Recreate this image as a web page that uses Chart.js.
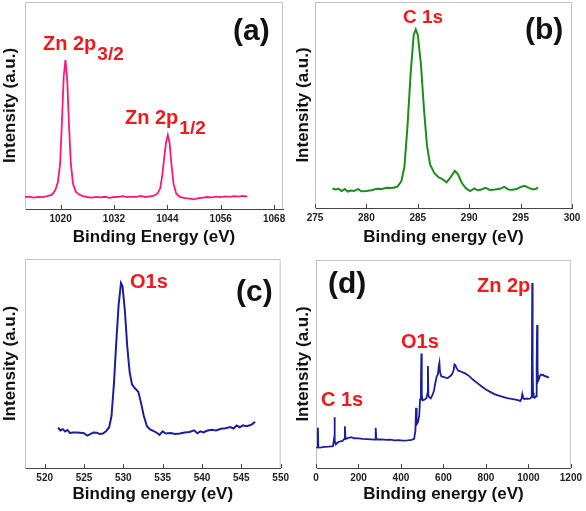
<!DOCTYPE html>
<html>
<head>
<meta charset="utf-8">
<script src="https://cdn.jsdelivr.net/npm/chart.js@4"></script>
<style>
  body { margin: 0; background: #fff; }
  #wrap { position: relative; width: 586px; height: 511px; }
  canvas { position: absolute; }
</style>
</head>
<body>
<div id="wrap">
  <canvas id="pa" width="293" height="256" style="left:0;top:0"></canvas>
  <canvas id="pb" width="293" height="256" style="left:293px;top:0"></canvas>
  <canvas id="pc" width="293" height="255" style="left:0;top:256px"></canvas>
  <canvas id="pd" width="293" height="255" style="left:293px;top:256px"></canvas>
</div>
<script>
// (a) Zn 2p
const znEnergy = [1012,1013,1014,1015,1016,1017,1018,1018.8,1019.4,1019.9,1020.3,1020.7,1021.1,1021.5,1021.9,1022.3,1022.8,1023.4,1024,1025,1026,1027,1028,1029,1030,1031,1032,1033,1034,1035,1036,1037,1038,1039,1040,1041,1041.8,1042.4,1042.9,1043.3,1043.7,1044.1,1044.5,1044.9,1045.4,1046,1046.8,1048,1049,1050,1051,1052,1053,1054,1055,1056,1057,1058,1059,1060,1061,1062];
const znCounts = [5.8,6.0,5.5,5.9,5.7,6.2,6.8,9.0,13,22,42,64,72,62,40,22,12,8.5,7.2,6.2,5.8,5.5,5.9,5.6,5.9,5.4,5.8,5.9,6.2,5.7,6.0,5.9,6.3,5.8,6.1,6.4,7.5,10,17,25,32,35.7,32,22,12,7.5,5.8,5.3,5.0,4.7,5.2,5.5,5.8,5.6,6.0,5.7,6.1,5.9,6.2,6.0,6.3,6.0];
const znTicks = [1020, 1032, 1044, 1056, 1068];

// (b) C 1s
const cEnergy = [276.7,277.0,277.3,277.6,277.9,278.2,278.5,278.8,279.2,279.5,280.0,280.5,281.0,281.5,282.0,282.5,283.0,283.4,283.7,284.0,284.3,284.6,284.8,285.0,285.3,285.6,285.9,286.2,286.6,287.0,287.4,287.8,288.2,288.6,288.9,289.3,289.7,290.1,290.5,290.8,291.2,291.6,292.0,292.5,293.0,293.4,293.8,294.2,294.6,295.0,295.4,295.8,296.2,296.5,296.7];
const cCounts = [9.5,9.0,9.3,8.2,9.2,8.0,8.5,8.3,9.2,8.1,8.2,8.6,9.3,9.2,9.8,9.7,10.3,13,20,40,65,84,86.7,84,70,48,30,21,17,15,14,12.5,15,18,16.5,12,9.5,8.2,9.5,8.6,9.0,9.8,8.8,9.0,9.3,10.3,9.0,8.9,9.2,10.2,10.8,9.8,9.0,9.3,10];
const cTicks = [275, 280, 285, 290, 295, 300];

// (c) O 1s
const oEnergy = [521.7,522.0,522.3,522.6,522.9,523.2,523.6,524.0,524.5,525.0,525.4,525.8,526.2,526.6,527.0,527.4,527.8,528.2,528.5,528.8,529.1,529.4,529.7,529.9,530.2,530.5,530.8,531.1,531.5,531.9,532.2,532.6,533.0,533.4,533.8,534.2,534.6,535.0,535.4,536.0,536.6,537.2,537.8,538.4,539.0,539.4,539.8,540.2,540.6,541.2,541.8,542.4,543.0,543.6,544.0,544.4,544.8,545.2,545.6,546.0,546.4,546.75];
const oCounts = [19.3,18.0,18.6,17.5,18.2,16.8,17.0,17.0,16.9,16.6,15.5,16.2,17.0,16.9,16.3,16.5,17.6,19.5,25,40,60,78,88.5,87,75,58,46,40,38,36.5,32,25,20,18.5,17.8,17.0,15.8,17.5,16.5,16.7,16.3,16.5,17.0,17.2,18.0,16.6,17.5,17.0,17.8,18.3,18.0,18.8,19.0,19.6,18.9,20.3,19.5,20.4,20.0,20.3,21.0,22.1];
const oTicks = [520, 525, 530, 535, 540, 545, 550];

// (d) survey
const sEnergy = [3,7,9,11,15,25,40,60,80,85,87,89,95,105,115,125,133,136,139,150,165,180,200,220,240,260,278,280,282,284,290,310,330,350,370,390,410,430,450,462,468,471,474,480,486,490,494,496,498,502,510,520,525,527,529,533,540,548,555,562,568,574,578,581,584,590,600,610,620,630,640,648,652,656,662,670,680,690,700,720,740,760,780,800,820,840,860,880,900,920,940,955,962,968,971,974,980,990,1000,1008,1013,1016,1018,1020,1022,1025,1030,1036,1039,1041,1043,1046,1050,1055,1060,1065,1070,1075,1080,1085,1090,1096];
const sCounts = [9.5,10,19.3,10,9.8,9.9,10.2,10.3,10.5,14,24.4,13,11.5,12.5,12.8,13.0,14,20.1,14,14.4,14.8,14.3,14.2,14.0,13.9,13.8,13.6,14.5,19.3,14,13.7,13.8,13.5,13.6,13.3,13.4,13.2,13.3,13.5,14,18,28.9,21,22,25,33,40,55.1,35,32.5,32.8,33.5,36,49,35,34,33.5,35,37,41,44,45,49,50.6,46,44,43.8,43.5,43.3,44,45,47,49.8,49.5,48,46.8,46.5,46,45.6,44.3,42.4,40.8,39.2,37.7,36.6,35.5,34.8,34.2,33.6,33.2,32.9,32.5,32.2,33.5,35.3,33.6,33.2,33.4,33.2,33.4,34,40,89,50,36,34,33.7,34.5,50,68.7,48,42,43,44.5,45,44.6,44.8,44.2,44.3,43.8,43.9,43.3];
const sTicks = [0, 200, 400, 600, 800, 1000, 1200];

Chart.defaults.font.family = "'Liberation Sans', Arial, sans-serif";
Chart.defaults.animation = false;

const RED = '#f0191e';

// light box on top/right, inward ticks, and the peak labels
const framePlugin = {
  id: 'frame',
  afterDraw(chart, args, opts) {
    const { ctx, chartArea: a } = chart;
    const x = chart.scales.x;
    ctx.save();
    ctx.strokeStyle = '#c4c4c4';
    ctx.lineWidth = 1;
    ctx.beginPath();
    ctx.moveTo(a.left, a.top + 0.5);
    ctx.lineTo(a.right - 0.5, a.top + 0.5);
    ctx.lineTo(a.right - 0.5, a.bottom);
    ctx.stroke();

    ctx.strokeStyle = '#444';
    x.ticks.forEach(t => {
      const px = Math.round(x.getPixelForValue(t.value)) + 0.5;
      ctx.beginPath();
      ctx.moveTo(px, a.bottom);
      ctx.lineTo(px, a.bottom - 4);
      ctx.stroke();
    });

    ctx.textBaseline = 'middle';
    ctx.textAlign = 'left';
    (opts.labels || []).forEach(l => {
      ctx.fillStyle = l.color;
      ctx.font = `bold ${l.size}px 'Liberation Sans', Arial, sans-serif`;
      ctx.fillText(l.text, l.x, l.y);
      if (l.sub) {
        const w = ctx.measureText(l.text).width;
        ctx.font = `bold ${l.subSize}px 'Liberation Sans', Arial, sans-serif`;
        ctx.fillText(l.sub, l.x + w + 1, l.y + l.subDy);
      }
    });
    ctx.restore();
  }
};

function makePanel(id, p) {
  const pts = p.xs.map((v, i) => ({ x: v, y: p.ys[i] }));
  return new Chart(document.getElementById(id), {
    type: 'line',
    data: {
      datasets: [{
        data: pts,
        borderColor: p.color,
        borderWidth: p.lineWidth,
        pointRadius: 0,
        tension: 0
      }]
    },
    options: {
      responsive: false,
      layout: { padding: { left: 0, top: p.padTop, right: p.padRight, bottom: 0 } },
      plugins: {
        legend: { display: false },
        tooltip: { enabled: false },
        frame: { labels: p.labels }
      },
      scales: {
        x: {
          type: 'linear',
          min: p.min,
          max: p.max,
          afterBuildTicks: s => { s.ticks = p.ticks.map(v => ({ value: v })); },
          afterFit: s => { s.height = p.xHeight; },
          ticks: {
            autoSkip: false,
            maxRotation: 0,
            padding: 4,
            color: '#222',
            font: { size: 10, weight: 'bold' },
            callback: v => String(v)
          },
          grid: { display: false, drawTicks: false },
          border: { color: '#444' },
          title: {
            display: true,
            text: p.xTitle,
            color: '#111',
            font: { size: 17, weight: 'bold' },
            padding: { top: 0, bottom: p.titlePad }
          }
        },
        y: {
          min: 0,
          max: 100,
          afterFit: s => { s.width = p.yWidth; },
          ticks: { display: false },
          grid: { display: false, drawTicks: false },
          border: { color: '#c4c4c4' },
          title: {
            display: true,
            text: 'Intensity (a.u.)',
            color: '#111',
            font: { size: 17, weight: 'bold' },
            padding: { top: 0, bottom: 0 }
          }
        }
      }
    },
    plugins: [framePlugin]
  });
}

makePanel('pa', {
  xs: znEnergy, ys: znCounts, ticks: znTicks, min: 1012, max: 1070,
  color: '#ff1877', lineWidth: 1.8,
  padTop: 2, padRight: 10, yWidth: 25, xHeight: 47, titlePad: 8,
  xTitle: 'Binding Energy (eV)',
  labels: [
    { text: '(a)', x: 233, y: 32, size: 30, color: '#111' },
    { text: 'Zn 2p', x: 43, y: 44, size: 20, color: RED, sub: '3/2', subSize: 19, subDy: 11 },
    { text: 'Zn 2p', x: 125, y: 118, size: 20, color: RED, sub: '1/2', subSize: 19, subDy: 11 }
  ]
});

makePanel('pb', {
  xs: cEnergy, ys: cCounts, ticks: cTicks, min: 275, max: 300,
  color: '#1e8c1e', lineWidth: 2,
  padTop: 2, padRight: 14, yWidth: 22, xHeight: 48, titlePad: 8,
  xTitle: 'Binding energy (eV)',
  labels: [
    { text: '(b)', x: 232, y: 31, size: 30, color: '#111' },
    { text: 'C 1s', x: 110, y: 18, size: 19, color: RED }
  ]
});

makePanel('pc', {
  xs: oEnergy, ys: oCounts, ticks: oTicks, min: 517.5, max: 550,
  color: '#1c1f9a', lineWidth: 2,
  padTop: 3, padRight: 10, yWidth: 25, xHeight: 43, titlePad: 6,
  xTitle: 'Binding energy (eV)',
  labels: [
    { text: '(c)', x: 236, y: 37, size: 30, color: '#111' },
    { text: 'O1s', x: 130, y: 26, size: 20, color: RED }
  ]
});

makePanel('pd', {
  xs: sEnergy, ys: sCounts, ticks: sTicks, min: 0, max: 1200,
  color: '#1c1f9a', lineWidth: 1.8,
  padTop: 4, padRight: 11, yWidth: 23, xHeight: 43, titlePad: 6,
  xTitle: 'Binding energy (eV)',
  labels: [
    { text: '(d)', x: 35, y: 29, size: 30, color: '#111' },
    { text: 'Zn 2p', x: 184, y: 30, size: 20, color: RED },
    { text: 'O1s', x: 108, y: 86, size: 20, color: RED },
    { text: 'C 1s', x: 28, y: 144, size: 20, color: RED }
  ]
});
</script>
</body>
</html>
